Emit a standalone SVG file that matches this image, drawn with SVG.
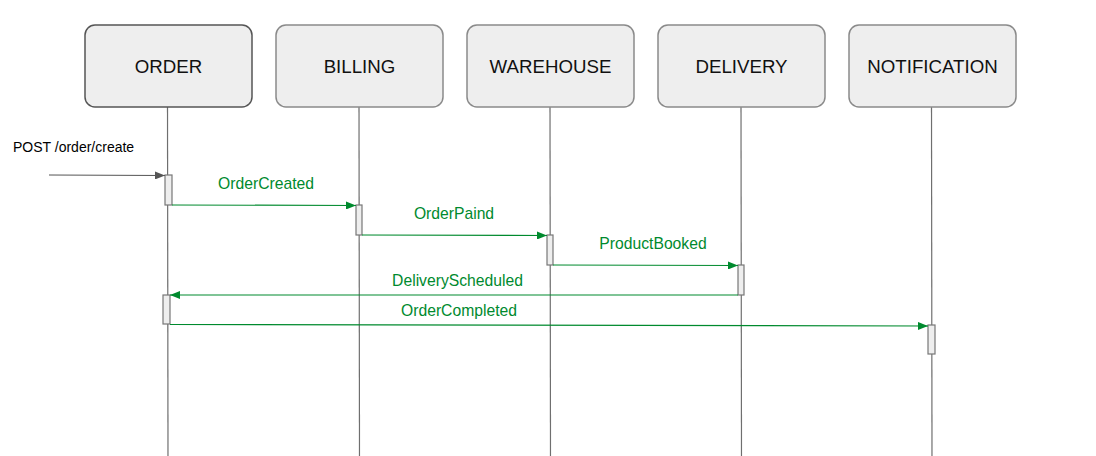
<svg xmlns="http://www.w3.org/2000/svg" width="1096" height="456" viewBox="0 0 1096 456">
<defs>
<style>
.box{fill:#eeeeee;stroke:#8a8a8a;stroke-width:1.5}
.box.dark{stroke:#555555}
.title{font-family:"Liberation Sans",Arial,sans-serif;font-size:18.7px;fill:#111;text-anchor:middle}
.life{stroke:#6f6f6f;stroke-width:1.2;fill:none}
.act{fill:#eeeeee;stroke:#777777;stroke-width:1.2}
.msg{stroke:#008a2e;stroke-width:1.2;fill:none;marker-end:url(#ga)}
.lbl{font-family:"Liberation Sans",Arial,sans-serif;font-size:15.7px;fill:#008a2e;text-anchor:middle}
</style>
<marker id="ga" viewBox="0 0 10 8" refX="10" refY="4" markerWidth="10" markerHeight="8" markerUnits="userSpaceOnUse" orient="auto">
<path d="M0,0 L10,4 L0,8 Z" fill="#008a2e"/>
</marker>
<marker id="ka" viewBox="0 0 10 8" refX="10" refY="4" markerWidth="10" markerHeight="8" markerUnits="userSpaceOnUse" orient="auto">
<path d="M0,0 L10,4 L0,8 Z" fill="#555555"/>
</marker>
</defs>
<rect width="1096" height="456" fill="#ffffff"/>
<g id="lifelines">
<line class="life" x1="167.5" y1="107" x2="168" y2="456"/>
<line class="life" x1="359" y1="107" x2="359.5" y2="456"/>
<line class="life" x1="550" y1="107" x2="550.5" y2="456"/>
<line class="life" x1="741" y1="107" x2="741.5" y2="456"/>
<line class="life" x1="931.5" y1="107" x2="932" y2="456"/>
</g>
<g id="node-order"><rect class="box dark" x="85" y="25" width="167" height="82" rx="10"/><text class="title" x="168.5" y="73">ORDER</text></g>
<g id="node-billing"><rect class="box" x="276" y="25" width="167" height="82" rx="10"/><text class="title" x="359.5" y="73">BILLING</text></g>
<g id="node-warehouse"><rect class="box" x="467" y="25" width="167" height="82" rx="10"/><text class="title" x="550.5" y="73">WAREHOUSE</text></g>
<g id="node-delivery"><rect class="box" x="658" y="25" width="167" height="82" rx="10"/><text class="title" x="741.5" y="73">DELIVERY</text></g>
<g id="node-notification"><rect class="box" x="849" y="25" width="167" height="82" rx="10"/><text class="title" x="932.5" y="73">NOTIFICATION</text></g>
<g id="activations">
<rect class="act" x="165" y="175" width="7" height="30"/>
<rect class="act" x="356" y="205" width="6" height="30"/>
<rect class="act" x="547" y="235" width="6" height="30"/>
<rect class="act" x="738" y="265" width="6" height="30"/>
<rect class="act" x="163" y="295" width="7" height="29"/>
<rect class="act" x="928" y="325" width="7" height="29"/>
</g>
<g id="connectors">
<line x1="49" y1="175" x2="165" y2="175.5" stroke="#555555" stroke-width="1.2" marker-end="url(#ka)"/>
<line class="msg" x1="172" y1="205" x2="356" y2="205.5"/>
<line class="msg" x1="362" y1="235" x2="547" y2="235.5"/>
<line class="msg" x1="553" y1="265" x2="738" y2="265.5"/>
<line class="msg" x1="738" y1="295" x2="170" y2="295"/>
<line class="msg" x1="170" y1="324.5" x2="928" y2="326"/>
</g>
<g id="labels">
<text x="13" y="152" font-family="'Liberation Sans',Arial,sans-serif" font-size="14" fill="#000">POST /order/create</text>
<text class="lbl" x="266" y="188.5">OrderCreated</text>
<text class="lbl" x="454" y="218.5">OrderPaind</text>
<text class="lbl" x="653" y="248.5">ProductBooked</text>
<text class="lbl" x="457.5" y="285.5">DeliveryScheduled</text>
<text class="lbl" x="459" y="315.5">OrderCompleted</text>
</g>
</svg>
